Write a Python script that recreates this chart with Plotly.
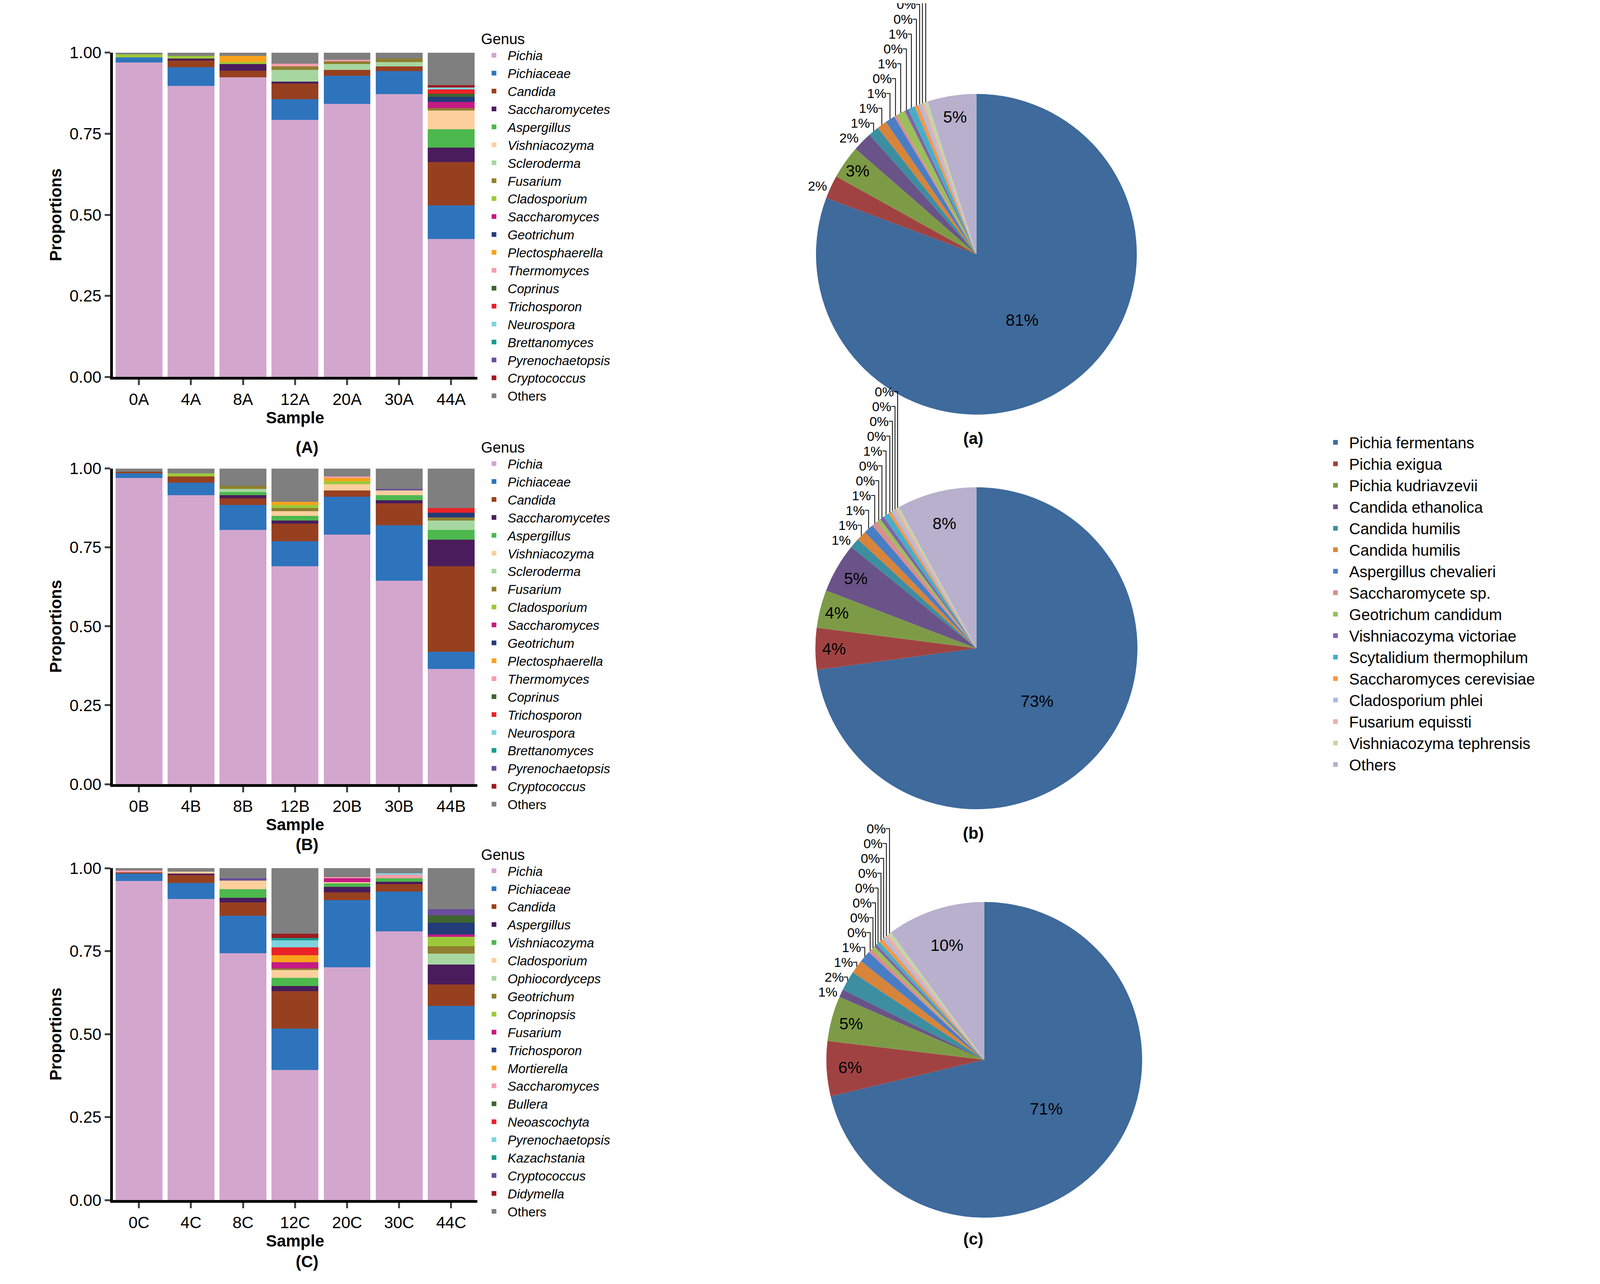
import plotly.graph_objects as go

samples_A = ["0A", "4A", "8A", "12A", "20A", "30A", "44A"]
samples_B = ["0B", "4B", "8B", "12B", "20B", "30B", "44B"]
samples_C = ["0C", "4C", "8C", "12C", "20C", "30C", "44C"]

genus_AB = ["Pichia", "Pichiaceae", "Candida", "Saccharomycetes", "Aspergillus", "Vishniacozyma",
            "Scleroderma", "Fusarium", "Cladosporium", "Saccharomyces", "Geotrichum", "Plectosphaerella",
            "Thermomyces", "Coprinus", "Trichosporon", "Neurospora", "Brettanomyces", "Pyrenochaetopsis",
            "Cryptococcus", "Others"]
colors_AB = ["#D3A6CD", "#2E74BD", "#974020", "#4B1C5C", "#4DB84D", "#FDCF9D", "#A7D7A1", "#8F7F30",
             "#9DC83B", "#C51A84", "#233B79", "#F9A21B", "#F59DAC", "#3F6430", "#E92228", "#7FD3DE",
             "#1A9A8C", "#6A4C9C", "#9B1C20", "#7F7F7F"]

# values per genus for samples 0A..44A
vals_A = [
    [0.969, 0.897, 0.924, 0.793, 0.842, 0.872, 0.426],  # Pichia
    [0.016, 0.058, 0.000, 0.063, 0.087, 0.071, 0.103],  # Pichiaceae
    [0.000, 0.021, 0.020, 0.048, 0.017, 0.015, 0.133],  # Candida
    [0.000, 0.006, 0.021, 0.006, 0.000, 0.000, 0.045],  # Saccharomycetes
    [0.000, 0.000, 0.000, 0.000, 0.000, 0.000, 0.057],  # Aspergillus
    [0.000, 0.000, 0.000, 0.000, 0.000, 0.000, 0.058],  # Vishniacozyma
    [0.000, 0.000, 0.000, 0.036, 0.019, 0.013, 0.000],  # Scleroderma
    [0.000, 0.000, 0.000, 0.012, 0.008, 0.011, 0.007],  # Fusarium
    [0.010, 0.008, 0.006, 0.000, 0.000, 0.000, 0.000],  # Cladosporium
    [0.000, 0.000, 0.000, 0.000, 0.000, 0.000, 0.019],  # Saccharomyces
    [0.000, 0.000, 0.000, 0.000, 0.000, 0.000, 0.016],  # Geotrichum
    [0.000, 0.000, 0.019, 0.000, 0.000, 0.000, 0.000],  # Plectosphaerella
    [0.000, 0.000, 0.000, 0.008, 0.005, 0.000, 0.000],  # Thermomyces
    [0.000, 0.000, 0.000, 0.000, 0.000, 0.000, 0.009],  # Coprinus
    [0.000, 0.000, 0.000, 0.000, 0.000, 0.000, 0.014],  # Trichosporon
    [0.000, 0.000, 0.000, 0.000, 0.000, 0.000, 0.005],  # Neurospora
    [0.000, 0.000, 0.000, 0.000, 0.000, 0.000, 0.000],  # Brettanomyces
    [0.000, 0.000, 0.000, 0.000, 0.000, 0.000, 0.000],  # Pyrenochaetopsis
    [0.000, 0.000, 0.000, 0.000, 0.000, 0.000, 0.008],  # Cryptococcus
    [0.005, 0.010, 0.010, 0.034, 0.022, 0.018, 0.100],  # Others
]

vals_B = [
    [0.970, 0.915, 0.805, 0.690, 0.790, 0.645, 0.365],  # Pichia
    [0.015, 0.040, 0.080, 0.080, 0.120, 0.175, 0.055],  # Pichiaceae
    [0.005, 0.020, 0.020, 0.055, 0.020, 0.070, 0.270],  # Candida
    [0.000, 0.000, 0.010, 0.010, 0.000, 0.010, 0.085],  # Saccharomycetes
    [0.000, 0.000, 0.010, 0.015, 0.000, 0.015, 0.030],  # Aspergillus
    [0.000, 0.000, 0.000, 0.015, 0.020, 0.015, 0.000],  # Vishniacozyma
    [0.000, 0.000, 0.010, 0.000, 0.000, 0.000, 0.030],  # Scleroderma
    [0.000, 0.000, 0.010, 0.010, 0.000, 0.000, 0.010],  # Fusarium
    [0.000, 0.010, 0.000, 0.010, 0.010, 0.000, 0.000],  # Cladosporium
    [0.000, 0.000, 0.000, 0.000, 0.000, 0.000, 0.000],  # Saccharomyces
    [0.000, 0.000, 0.000, 0.000, 0.000, 0.000, 0.015],  # Geotrichum
    [0.000, 0.000, 0.000, 0.010, 0.010, 0.000, 0.000],  # Plectosphaerella
    [0.000, 0.000, 0.000, 0.000, 0.005, 0.000, 0.000],  # Thermomyces
    [0.000, 0.000, 0.000, 0.000, 0.000, 0.000, 0.000],  # Coprinus
    [0.000, 0.000, 0.000, 0.000, 0.000, 0.000, 0.015],  # Trichosporon
    [0.000, 0.000, 0.000, 0.000, 0.000, 0.000, 0.000],  # Neurospora
    [0.000, 0.000, 0.000, 0.000, 0.000, 0.000, 0.000],  # Brettanomyces
    [0.000, 0.000, 0.000, 0.000, 0.000, 0.005, 0.000],  # Pyrenochaetopsis
    [0.000, 0.000, 0.000, 0.000, 0.000, 0.000, 0.000],  # Cryptococcus
    [0.010, 0.015, 0.055, 0.105, 0.025, 0.065, 0.125],  # Others
]

genus_C = ["Pichia", "Pichiaceae", "Candida", "Aspergillus", "Vishniacozyma", "Cladosporium",
           "Ophiocordyceps", "Geotrichum", "Coprinopsis", "Fusarium", "Trichosporon", "Mortierella",
           "Saccharomyces", "Bullera", "Neoascochyta", "Pyrenochaetopsis", "Kazachstania",
           "Cryptococcus", "Didymella", "Others"]
colors_C = ["#D3A6CD", "#2E74BD", "#974020", "#4B1C5C", "#4DB84D", "#FDCF9D", "#A7D7A1", "#8F7F30",
            "#9DC83B", "#C51A84", "#233B79", "#F9A21B", "#F59DAC", "#3F6430", "#E92228", "#7FD3DE",
            "#1A9A8C", "#6A4C9C", "#9B1C20", "#7F7F7F"]

vals_C = [
    [0.961, 0.907, 0.744, 0.392, 0.701, 0.809, 0.482],  # Pichia
    [0.022, 0.048, 0.113, 0.124, 0.203, 0.121, 0.103],  # Pichiaceae
    [0.004, 0.024, 0.040, 0.114, 0.023, 0.022, 0.064],  # Candida
    [0.000, 0.005, 0.014, 0.015, 0.017, 0.007, 0.061],  # Aspergillus
    [0.000, 0.000, 0.026, 0.025, 0.010, 0.010, 0.000],  # Vishniacozyma
    [0.000, 0.005, 0.025, 0.023, 0.004, 0.000, 0.000],  # Cladosporium
    [0.000, 0.000, 0.000, 0.000, 0.000, 0.000, 0.033],  # Ophiocordyceps
    [0.000, 0.000, 0.000, 0.005, 0.000, 0.000, 0.022],  # Geotrichum
    [0.000, 0.000, 0.000, 0.000, 0.000, 0.000, 0.028],  # Coprinopsis
    [0.000, 0.000, 0.000, 0.019, 0.011, 0.000, 0.007],  # Fusarium
    [0.000, 0.000, 0.000, 0.000, 0.000, 0.000, 0.035],  # Trichosporon
    [0.000, 0.000, 0.000, 0.021, 0.000, 0.000, 0.000],  # Mortierella
    [0.006, 0.000, 0.000, 0.000, 0.004, 0.011, 0.000],  # Saccharomyces
    [0.000, 0.000, 0.000, 0.000, 0.000, 0.000, 0.023],  # Bullera
    [0.000, 0.000, 0.000, 0.023, 0.000, 0.000, 0.000],  # Neoascochyta
    [0.000, 0.000, 0.000, 0.021, 0.000, 0.005, 0.000],  # Pyrenochaetopsis
    [0.000, 0.000, 0.000, 0.007, 0.000, 0.000, 0.000],  # Kazachstania
    [0.000, 0.000, 0.007, 0.000, 0.000, 0.000, 0.019],  # Cryptococcus
    [0.000, 0.000, 0.000, 0.013, 0.000, 0.000, 0.000],  # Didymella
    [0.007, 0.011, 0.031, 0.198, 0.027, 0.015, 0.123],  # Others
]

species = ["Pichia fermentans", "Pichia exigua", "Pichia kudriavzevii", "Candida ethanolica",
           "Candida humilis", "Candida humilis ", "Aspergillus chevalieri", "Saccharomycete sp.",
           "Geotrichum candidum", "Vishniacozyma victoriae", "Scytalidium thermophilum",
           "Saccharomyces cerevisiae", "Cladosporium phlei", "Fusarium equissti",
           "Vishniacozyma tephrensis", "Others"]
species_colors = ["#3E6A9C", "#A14242", "#7D9B46", "#6A5388", "#3C8EA0", "#D8843A", "#4A7EC4",
                  "#D98E8E", "#9BBF5A", "#7E64A8", "#4BACC6", "#F79646", "#A9BCE0", "#E6B0AF",
                  "#C4D6A8", "#B8B0CD"]
pie_a = [82, 2.4, 3.4, 2.0, 1.1, 1.0, 1.0, 0.3, 0.9, 0.4, 0.7, 0.4, 0.3, 0.3, 0.4, 5.0]
pie_b = [73, 4.2, 3.8, 5.0, 1.0, 1.0, 1.0, 0.6, 0.4, 0.4, 0.6, 0.3, 0.3, 0.3, 0.3, 8.0]
pie_c = [71, 5.6, 4.6, 0.8, 2.0, 1.4, 1.2, 0.4, 0.4, 0.3, 0.4, 0.4, 0.3, 0.4, 0.4, 10.0]

FONT = "Liberation Sans, Arial"
fig = go.Figure()

panels = [
    (samples_A, genus_AB, colors_AB, vals_A, "x", "y", "legend"),
    (samples_B, genus_AB, colors_AB, vals_B, "x2", "y2", "legend2"),
    (samples_C, genus_C, colors_C, vals_C, "x3", "y3", "legend3"),
]
for samples, genus, cols, vals, xa, ya, lg in panels:
    for g, c, v in zip(genus, cols, vals):
        name = g if g == "Others" else "<i>%s</i>" % g
        fig.add_trace(go.Bar(x=samples, y=v, name=name, marker=dict(color=c, line_width=0),
                             xaxis=xa, yaxis=ya, legend=lg))

pie_domains = [([0.45, 0.77], [0.684, 0.94]), ([0.45, 0.77], [0.369, 0.626]), ([0.45, 0.78], [0.043, 0.295])]
for vals, (dx, dy) in zip([pie_a, pie_b, pie_c], pie_domains):
    fig.add_trace(go.Pie(labels=species, values=vals, marker=dict(colors=species_colors, line_width=0),
                         sort=False, direction="clockwise", rotation=0, domain=dict(x=dx, y=dy),
                         texttemplate="%{percent:.0%}", textposition="auto",
                         insidetextorientation="horizontal",
                         insidetextfont=dict(size=42, color="black", family=FONT),
                         outsidetextfont=dict(size=34, color="black", family=FONT),
                         legend="legend4", showlegend=True))

ydoms = [[0.714, 0.973], [0.389, 0.641], [0.057, 0.322]]
ax_common = dict(showline=True, linewidth=7, linecolor="black", ticks="outside", ticklen=14,
                 tickwidth=5, tickfont=dict(size=42, family=FONT, color="black"), showgrid=False,
                 zeroline=False)
for i, yd in enumerate(ydoms):
    s = "" if i == 0 else str(i + 1)
    fig.layout["xaxis" + s] = dict(domain=[0.06, 0.292], anchor="y" + s,
                                   title=dict(text="<b>Sample</b>", font=dict(size=42, family=FONT), standoff=4),
                                   **ax_common)
    fig.layout["yaxis" + s] = dict(domain=yd, anchor="x" + s, range=[0, 1.0], tickvals=[0, 0.25, 0.5, 0.75, 1.0],
                                   ticktext=["0.00", "0.25", "0.50", "0.75", "1.00"],
                                   title=dict(text="<b>Proportions</b>", font=dict(size=42, family=FONT), standoff=10),
                                   **ax_common)

leg_common = dict(font=dict(size=33, family=FONT, color="black"), tracegroupgap=0, bgcolor="rgba(0,0,0,0)",
                  title=dict(text="Genus", font=dict(size=38, family=FONT)), xanchor="left", yanchor="top",
                  itemwidth=60, traceorder="normal")
fig.update_layout(
    legend=dict(x=0.294, y=0.995, **leg_common),
    legend2=dict(x=0.294, y=0.669, **leg_common),
    legend3=dict(x=0.294, y=0.344, **leg_common),
    legend4=dict(x=0.83, y=0.672, xanchor="left", yanchor="top", bgcolor="rgba(0,0,0,0)",
                 font=dict(size=40, family=FONT, color="black"), itemwidth=60),
)

annots = [("<b>(A)</b>", 0.176, 0.658), ("<b>(B)</b>", 0.176, 0.333), ("<b>(C)</b>", 0.176, 0.0),
          ("<b>(a)</b>", 0.608, 0.665), ("<b>(b)</b>", 0.608, 0.35), ("<b>(c)</b>", 0.608, 0.018)]
for t, x, y in annots:
    fig.add_annotation(text=t, x=x, y=y, xref="paper", yref="paper", showarrow=False,
                       font=dict(size=42, family=FONT, color="black"))

fig.update_layout(barmode="stack", bargap=0.1, width=4099, height=3288, plot_bgcolor="white",
                  paper_bgcolor="white", margin=dict(l=40, r=40, t=40, b=40, autoexpand=False),
                  font=dict(family=FONT, color="black"))
fig.write_html("out.html")
